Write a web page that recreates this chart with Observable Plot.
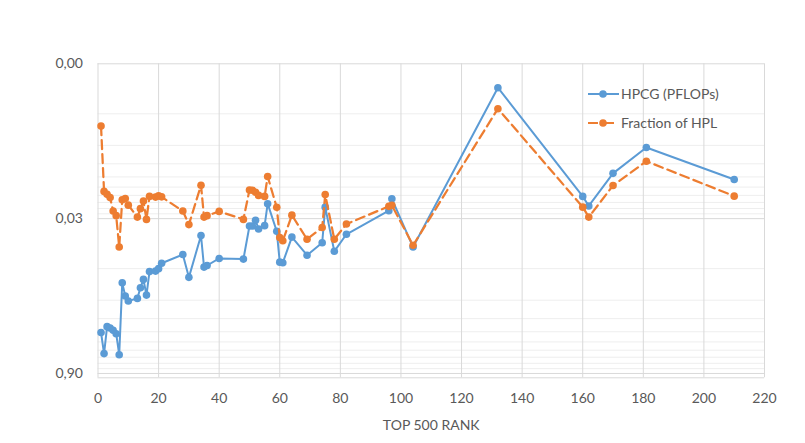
<!DOCTYPE html>
<html>
<head>
<meta charset="utf-8">
<script src="https://cdn.jsdelivr.net/npm/d3@7"></script>
<script src="https://cdn.jsdelivr.net/npm/@observablehq/plot@0.6"></script>
<style>
  body { margin: 0; background: #fff; }
  #wrap { position: relative; width: 805px; height: 443px; font-family: Lato, "Open Sans", sans-serif; }
  .legend { position: absolute; left: 586px; top: 79px; color: #595959; font-size: 14px; }
  .legend .row { display: flex; align-items: center; height: 29px; }
  .legend svg { margin-right: 1px; }
</style>
</head>
<body>
<div id="wrap"></div>
<script>
// ---- data ----
const ranks = [1,2,3,4,5,6,7,8,9,10,13,14,15,16,17,19,20,21,28,30,34,35,36,40,48,50,51,52,53,55,56,59,60,61,64,69,74,75,78,82,96,97,104,132,160,162,170,181,210];
const hpcg = [0.366,0.582,0.322,0.331,0.348,0.376,0.596,0.123,0.164,0.183,
  0.173,0.137,0.114,0.161,0.096,0.095,0.090,0.080,0.066,0.109,
  0.0435,0.087,0.084,0.072,0.073,0.0353,0.0353,0.0311,0.0377,0.035,0.0216,
  0.0396,0.078,0.079,0.045,0.067,0.051,0.0233,0.0615,0.0423,
  0.0252,0.0194,0.056,0.00169,0.0184,0.0227,0.0111,0.00628,0.0127];
const fraction = [0.00393,0.0165,0.0176,0.0189,0.0254,0.0281,0.056,0.0198,0.0193,0.0223,
  0.029,0.0241,0.0204,0.0305,0.0184,0.0187,0.0182,0.0186,0.0254,0.0342,
  0.0144,0.029,0.0281,0.0256,0.0305,0.016,0.0161,0.0168,0.018,0.0184,0.0119,
  0.0234,0.0455,0.0488,0.0278,0.0472,0.0365,0.0177,0.0472,0.0338,
  0.0229,0.0224,0.0539,0.00268,0.0233,0.029,0.0145,0.0085,0.0183];
const seriesNames = ["HPCG (PFLOPs)", "Fraction of HPL"];
const xTicks = [0,20,40,60,80,100,120,140,160,180,200,220];
const yTicks = [0.001, 0.03, 0.9];
const yTickLabels = ["0,00", "0,03", "0,90"];
const yMinor = [0.003,0.006,0.009,0.012,0.015,0.018,0.021,0.024,0.027,
                0.09,0.18,0.27,0.36,0.45,0.54,0.63,0.72,0.81];
const yDomain = [0.001, 0.99];
const xDomain = [0, 220];
const xLabel = "TOP 500 RANK";

const blue = "#5B9BD5", orange = "#ED7D31";
const data = ranks.map((r, i) => ({rank: r, hpcg: hpcg[i], fraction: fraction[i]}));

const chart = Plot.plot({
  width: 805,
  height: 443,
  marginLeft: 97.5,
  marginRight: 41,
  marginTop: 63.3,
  marginBottom: 65.7,
  style: {fontFamily: "Lato, 'Open Sans', sans-serif", fontSize: "14px", color: "#595959", background: "#fff"},
  x: {domain: xDomain},
  y: {type: "log", domain: yDomain, reverse: true, axis: null},
  marks: [
    Plot.ruleY(yMinor, {stroke: "#eeeeee", strokeWidth: 1}),
    Plot.ruleX(xTicks, {stroke: "#d9d9d9", strokeWidth: 1}),
    Plot.ruleY(yTicks, {stroke: "#d9d9d9", strokeWidth: 1}),
    Plot.ruleY([yDomain[1]], {stroke: "#d9d9d9", strokeWidth: 1}),
    // y tick labels (log-scale tick formatting would blank 0.9, so draw them as text on the y scale)
    Plot.text(yTicks, {y: d => d, text: (d, i) => yTickLabels[i], frameAnchor: "left", dx: -15,
      textAnchor: "end", fontSize: 14, fill: "#595959"}),
    Plot.axisX(xTicks, {tickSize: 0, tickPadding: 15, fontSize: 14, tickFormat: d => String(d),
      label: xLabel, labelAnchor: "center", labelOffset: 52, labelArrow: "none"}),
    Plot.line(data, {x: "rank", y: "hpcg", stroke: blue, strokeWidth: 2}),
    Plot.dot(data, {x: "rank", y: "hpcg", r: 3.8, fill: blue, stroke: "none"}),
    Plot.line(data, {x: "rank", y: "fraction", stroke: orange, strokeWidth: 2.25, strokeDasharray: "9,5"}),
    Plot.dot(data, {x: "rank", y: "fraction", r: 3.8, fill: orange, stroke: "none"})
  ]
});

const wrap = document.getElementById("wrap");
wrap.appendChild(chart);

const legend = document.createElement("div");
legend.className = "legend";
const swatch = (color, dash) =>
  `<svg width="34" height="10"><line x1="2" y1="5" x2="33" y2="5" stroke="${color}" stroke-width="2" ${dash ? 'stroke-dasharray="10,6"' : ""}/><circle cx="17" cy="5" r="3.8" fill="${color}"/></svg>`;
legend.innerHTML =
  `<div class="row">${swatch(blue, false)}<span>${seriesNames[0]}</span></div>` +
  `<div class="row">${swatch(orange, true)}<span>${seriesNames[1]}</span></div>`;
wrap.appendChild(legend);
</script>
</body>
</html>
